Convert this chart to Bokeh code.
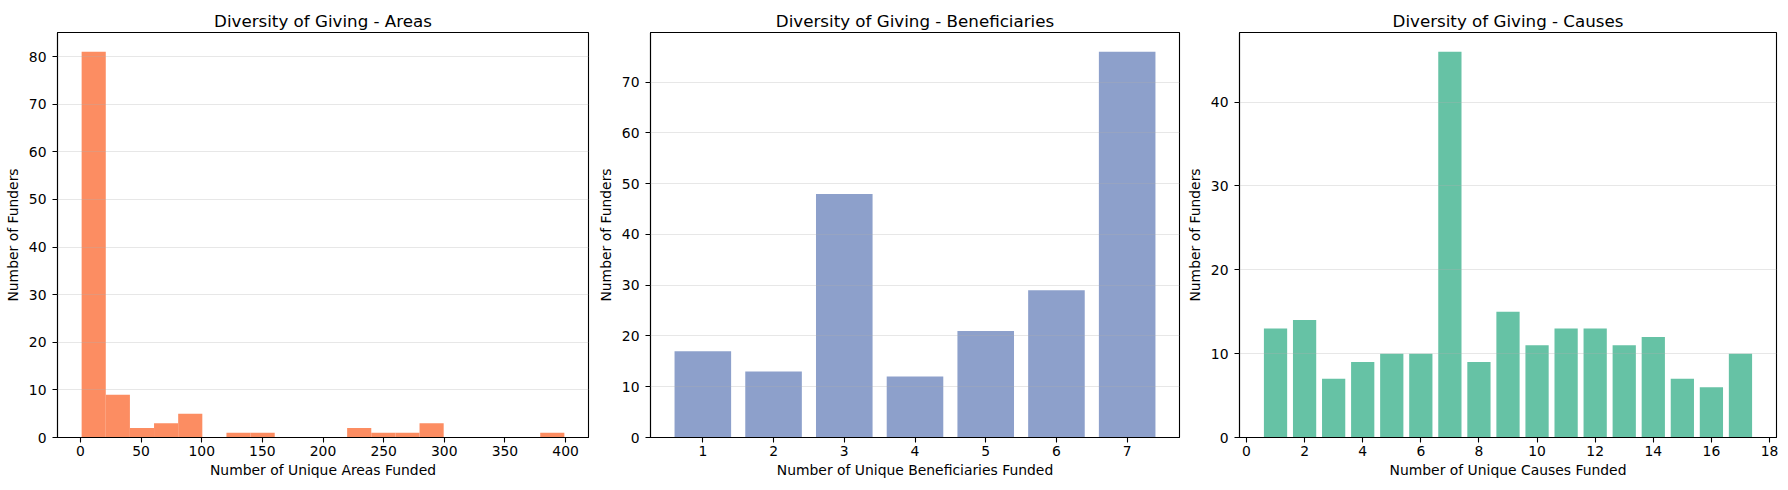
import numpy as np
from bokeh.plotting import figure
from bokeh.layouts import row
from bokeh.models import FixedTicker, Range1d
from bokeh.embed import file_html
from bokeh.resources import INLINE

# ---- data ----
area_min = 1
area_max = 399
area_counts = [81, 9, 2, 3, 5, 0, 1, 1, 0, 0, 0, 2, 1, 1, 3, 0, 0, 0, 0, 1]

benef_levels = [1, 2, 3, 4, 5, 6, 7]
benef_counts = [17, 13, 48, 12, 21, 29, 76]

cause_levels = list(range(1, 18))
cause_counts = [13, 14, 7, 9, 10, 10, 46, 9, 15, 11, 13, 13, 11, 12, 7, 6, 10]

titles = ["Diversity of Giving - Areas", "Diversity of Giving - Beneficiaries", "Diversity of Giving - Causes"]
xlabels = ["Number of Unique Areas Funded", "Number of Unique Beneficiaries Funded", "Number of Unique Causes Funded"]
ylabel = "Number of Funders"
colors = ["#fc8d62", "#8da0cb", "#66c2a5"]

FONT = "DejaVu Sans"


def make_fig(width, bl, br, title, xlabel):
    p = figure(width=width, height=490, output_backend="svg", toolbar_location=None,
               min_border_left=bl, min_border_right=br, min_border_top=32, min_border_bottom=53,
               title=title)
    p.title.text_font = FONT
    p.title.text_font_size = "16.7px"
    p.title.text_font_style = "normal"
    p.title.align = "center"
    p.title.text_color = "black"
    p.title.standoff = 4
    p.outline_line_color = "black"
    p.outline_line_width = 1.1
    p.outline_line_alpha = 1
    p.xgrid.visible = False
    p.ygrid.grid_line_color = "#b0b0b0"
    p.ygrid.grid_line_alpha = 0.3
    p.ygrid.grid_line_width = 1.1
    p.ygrid.level = "annotation"
    for ax in (p.xaxis, p.yaxis):
        ax.axis_line_color = "black"
        ax.axis_line_width = 1.1
        ax.major_tick_line_color = "black"
        ax.major_tick_line_width = 1.1
        ax.major_tick_out = 5
        ax.major_tick_in = 0
        ax.minor_tick_line_color = None
        ax.major_label_text_font = FONT
        ax.major_label_text_font_size = "13.9px"
        ax.major_label_text_color = "black"
        ax.axis_label_text_font = FONT
        ax.axis_label_text_font_size = "13.9px"
        ax.axis_label_text_font_style = "normal"
        ax.axis_label_text_color = "black"
    p.xaxis.major_label_standoff = 3
    p.xaxis.axis_label_standoff = 3
    p.yaxis.major_label_standoff = 6
    p.yaxis.axis_label_standoff = 5
    p.xaxis.axis_label = xlabel
    p.yaxis.axis_label = ylabel
    return p


# Areas histogram
nb = len(area_counts)
edges = np.linspace(area_min, area_max, nb + 1)
span = area_max - area_min
p1 = make_fig(590, 57, 2, titles[0], xlabels[0])
p1.quad(left=edges[:-1], right=edges[1:], bottom=0, top=area_counts,
        fill_color=colors[0], fill_alpha=1.0, line_color=None)
p1.x_range = Range1d(area_min - 0.05 * span, area_max + 0.05 * span)
p1.y_range = Range1d(0, max(area_counts) * 1.05)
p1.xaxis.ticker = FixedTicker(ticks=[0, 50, 100, 150, 200, 250, 300, 350, 400])
p1.yaxis.ticker = FixedTicker(ticks=[0, 10, 20, 30, 40, 50, 60, 70, 80])

# Beneficiaries bars
p2 = make_fig(591, 60, 2, titles[1], xlabels[1])
p2.vbar(x=benef_levels, top=benef_counts, width=0.8, bottom=0,
        fill_color=colors[1], fill_alpha=1.0, line_color=None)
lo = benef_levels[0] - 0.4
hi = benef_levels[-1] + 0.4
p2.x_range = Range1d(lo - 0.05 * (hi - lo), hi + 0.05 * (hi - lo))
p2.y_range = Range1d(0, max(benef_counts) * 1.05)
p2.xaxis.ticker = FixedTicker(ticks=benef_levels)
p2.yaxis.ticker = FixedTicker(ticks=[0, 10, 20, 30, 40, 50, 60, 70])

# Causes bars
p3 = make_fig(607, 58, 12, titles[2], xlabels[2])
p3.vbar(x=cause_levels, top=cause_counts, width=0.8, bottom=0,
        fill_color=colors[2], fill_alpha=1.0, line_color=None)
lo = cause_levels[0] - 0.4
hi = cause_levels[-1] + 0.4
p3.x_range = Range1d(lo - 0.05 * (hi - lo), hi + 0.05 * (hi - lo))
p3.y_range = Range1d(0, max(cause_counts) * 1.05)
p3.xaxis.ticker = FixedTicker(ticks=list(range(0, 19, 2)))
p3.yaxis.ticker = FixedTicker(ticks=[0, 10, 20, 30, 40])

layout = row(p1, p2, p3, spacing=0)
open("out.html", "w").write(file_html(layout, INLINE))
